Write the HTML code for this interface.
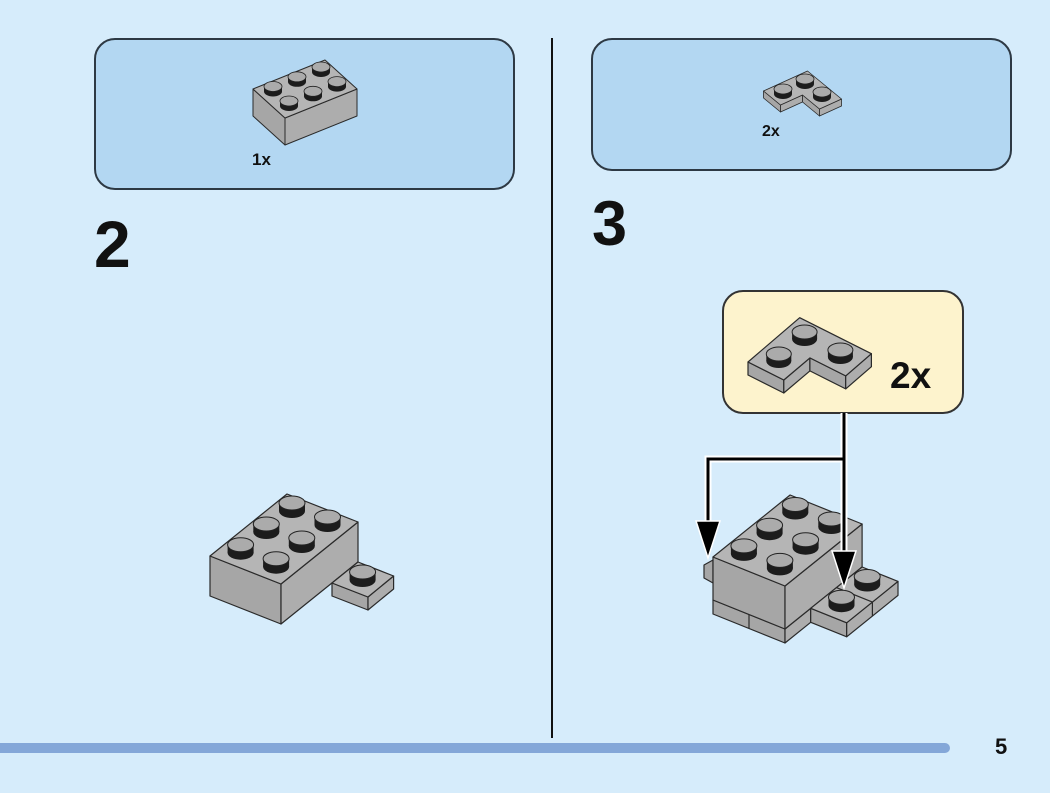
<!DOCTYPE html>
<html><head><meta charset="utf-8"><style>
html,body{margin:0;padding:0;background:#d6ecfb;}
svg{display:block;}
text{font-family:"Liberation Sans",sans-serif;font-weight:bold;fill:#111;}
</style></head><body>
<svg width="1050" height="793" viewBox="0 0 1050 793" xmlns="http://www.w3.org/2000/svg">
<defs>
  <g id="s">
    <ellipse cx="0" cy="0" rx="13" ry="7" fill="#1c1c1c"/>
    <rect x="-13" y="-8" width="26" height="8" fill="#1c1c1c"/>
    <ellipse cx="0" cy="-8" rx="13" ry="7" fill="#ababab" stroke="#222" stroke-width="1"/>
  </g>
  <g id="ss">
    <ellipse cx="0" cy="0" rx="9" ry="5" fill="#1c1c1c"/>
    <rect x="-9" y="-5" width="18" height="5" fill="#1c1c1c"/>
    <ellipse cx="0" cy="-5" rx="9" ry="5" fill="#ababab" stroke="#222" stroke-width="0.8"/>
  </g>
  <g id="sy">
    <ellipse cx="0" cy="0" rx="12.5" ry="7" fill="#1c1c1c"/>
    <rect x="-12.5" y="-7" width="25" height="7" fill="#1c1c1c"/>
    <ellipse cx="0" cy="-7" rx="12.5" ry="7" fill="#ababab" stroke="#222" stroke-width="1"/>
  </g>
</defs>

<!-- boxes -->
<rect x="95" y="39" width="419" height="150" rx="20" fill="#b3d7f2" stroke="#2d3944" stroke-width="2"/>
<rect x="592" y="39" width="419" height="131" rx="20" fill="#b3d7f2" stroke="#2d3944" stroke-width="2"/>

<!-- divider -->
<line x1="552" y1="38" x2="552" y2="738" stroke="#111" stroke-width="2"/>

<!-- parts list brick (left box) -->
<g stroke="#2a2a2a" stroke-width="1" stroke-linejoin="round">
  <polygon points="253,89 285,118 285,145 253,116" fill="#a6a6a6"/>
  <polygon points="285,118 357,89 357,116 285,145" fill="#adadad"/>
  <polygon points="253,89 325,60 357,89 285,118" fill="#b5b5b5"/>
</g>
<use href="#ss" x="321" y="72"/>
<use href="#ss" x="337" y="86.6"/>
<use href="#ss" x="297" y="81.8"/>
<use href="#ss" x="313" y="96.3"/>
<use href="#ss" x="273" y="91.5"/>
<use href="#ss" x="289" y="106"/>
<text x="252" y="165" font-size="17">1x</text>

<!-- parts list corner plate (right box) -->
<g transform="translate(763.5,91)">
  <g stroke="#2a2a2a" stroke-width="0.8" stroke-linejoin="round">
    <polygon points="0,0 17,14 17,21 0,7" fill="#a6a6a6"/>
    <polygon points="17,14 39,4 39,11 17,21" fill="#adadad"/>
    <polygon points="39,4 56,18 56,25 39,11" fill="#a6a6a6"/>
    <polygon points="56,18 78,8 78,15 56,25" fill="#adadad"/>
    <polygon points="0,0 44,-20 78,8 56,18 39,4 17,14" fill="#b5b5b5"/>
  </g>
  <use href="#ss" x="41.5" y="-7"/>
  <use href="#ss" x="58.5" y="6"/>
  <use href="#ss" x="19.5" y="3"/>
</g>
<text x="762" y="136" font-size="16">2x</text>

<!-- step numbers -->
<text x="94" y="267" font-size="66">2</text>
<text x="592" y="245" font-size="63">3</text>

<!-- step 2 model -->
<g stroke="#2a2a2a" stroke-width="1.2" stroke-linejoin="round">
  <polygon points="210,556 281,584 281,624 210,596" fill="#a6a6a6"/>
  <polygon points="281,584 358,522 358,562 281,624" fill="#adadad"/>
  <polygon points="210,556 287,494 358,522 281,584" fill="#b5b5b5"/>
  <!-- plate -->
  <polygon points="332,583 368,597 368,610 332,596" fill="#a6a6a6"/>
  <polygon points="368,597 393.6,576 393.6,589 368,610" fill="#adadad"/>
  <polygon points="332,583 368,597 393.6,576 358,562" fill="#b5b5b5"/>
</g>
<use href="#s" x="292" y="511"/>
<use href="#s" x="327.5" y="525"/>
<use href="#s" x="266.3" y="532"/>
<use href="#s" x="301.8" y="546"/>
<use href="#s" x="240.6" y="552.7"/>
<use href="#s" x="276.1" y="566.7"/>
<use href="#s" x="362.6" y="580"/>

<!-- yellow callout -->
<rect x="723" y="291" width="240" height="122" rx="20" fill="#fdf3cd" stroke="#333" stroke-width="2"/>
<g transform="translate(748,362)">
  <g stroke="#2a2a2a" stroke-width="1.2" stroke-linejoin="round">
    <polygon points="0,0 35.8,18 35.8,31 0,13" fill="#a6a6a6"/>
    <polygon points="35.8,18 61.9,-4.1 61.9,8.9 35.8,31" fill="#adadad"/>
    <polygon points="61.9,-4.1 97.7,13.9 97.7,26.9 61.9,8.9" fill="#a6a6a6"/>
    <polygon points="97.7,13.9 123.4,-8.3 123.4,4.7 97.7,26.9" fill="#adadad"/>
    <polygon points="0,0 51.7,-44.3 123.4,-8.3 97.7,13.9 61.9,-4.1 35.8,18" fill="#b5b5b5"/>
  </g>
  <use href="#sy" x="56.6" y="-23"/>
  <use href="#sy" x="92.4" y="-5"/>
  <use href="#sy" x="30.8" y="-1"/>
</g>
<text x="890" y="388" font-size="37">2x</text>

<!-- step 3 model -->
<g stroke="#2a2a2a" stroke-width="1.2" stroke-linejoin="round">
  <!-- left stub -->
  <polygon points="704,565 713,560 713,583 704,578" fill="#a6a6a6"/>
  <!-- plate layer under brick -->
  <polygon points="713,600 785,629 785,643 713,614" fill="#a6a6a6"/>
  <line x1="749" y1="614.5" x2="749" y2="628.5"/>
  <polygon points="785,629 810.7,608.3 810.7,622.3 785,643" fill="#adadad"/>
  <!-- brick -->
  <polygon points="713,557 785,586 785,629 713,600" fill="#a6a6a6"/>
  <polygon points="785,586 862.1,524 862.1,567 785,629" fill="#adadad"/>
  <polygon points="713,557 790.1,495 862.1,524 785,586" fill="#b5b5b5"/>
  <!-- right plates -->
  <polygon points="810.7,608.3 846.7,622.8 846.7,636.8 810.7,622.3" fill="#a6a6a6"/>
  <polygon points="846.7,622.8 898,581.4 898,595.4 846.7,636.8" fill="#adadad"/>
  <polygon points="810.7,608.3 846.7,622.8 898,581.4 862.1,567" fill="#b5b5b5"/>
  <line x1="836.4" y1="587.6" x2="872.4" y2="602.1"/>
  <line x1="872.4" y1="602.1" x2="872.4" y2="616.1"/>
</g>
<use href="#s" x="795.3" y="512.5"/>
<use href="#s" x="831.3" y="527"/>
<use href="#s" x="769.6" y="533.2"/>
<use href="#s" x="805.6" y="547.7"/>
<use href="#s" x="743.9" y="553.9"/>
<use href="#s" x="779.9" y="568.4"/>
<use href="#s" x="867.2" y="584.5"/>
<use href="#s" x="841.5" y="605.2"/>

<!-- arrows -->
<path d="M844,413 V553 M844,459 H708 V523" fill="none" stroke="#fff" stroke-width="7" stroke-linejoin="miter"/>
<path d="M844,413 V553 M844,459 H708 V523" fill="none" stroke="#000" stroke-width="3" stroke-linejoin="miter"/>
<polygon points="696,521 720,521 708,558" fill="#000" stroke="#fff" stroke-width="1.5"/>
<polygon points="832,551 856,551 844,588" fill="#000" stroke="#fff" stroke-width="1.5"/>

<!-- bottom bar & page number -->
<rect x="-10" y="743" width="960" height="10" rx="5" fill="#84a7d8"/>
<text x="995" y="754" font-size="22">5</text>
</svg>
</body></html>
